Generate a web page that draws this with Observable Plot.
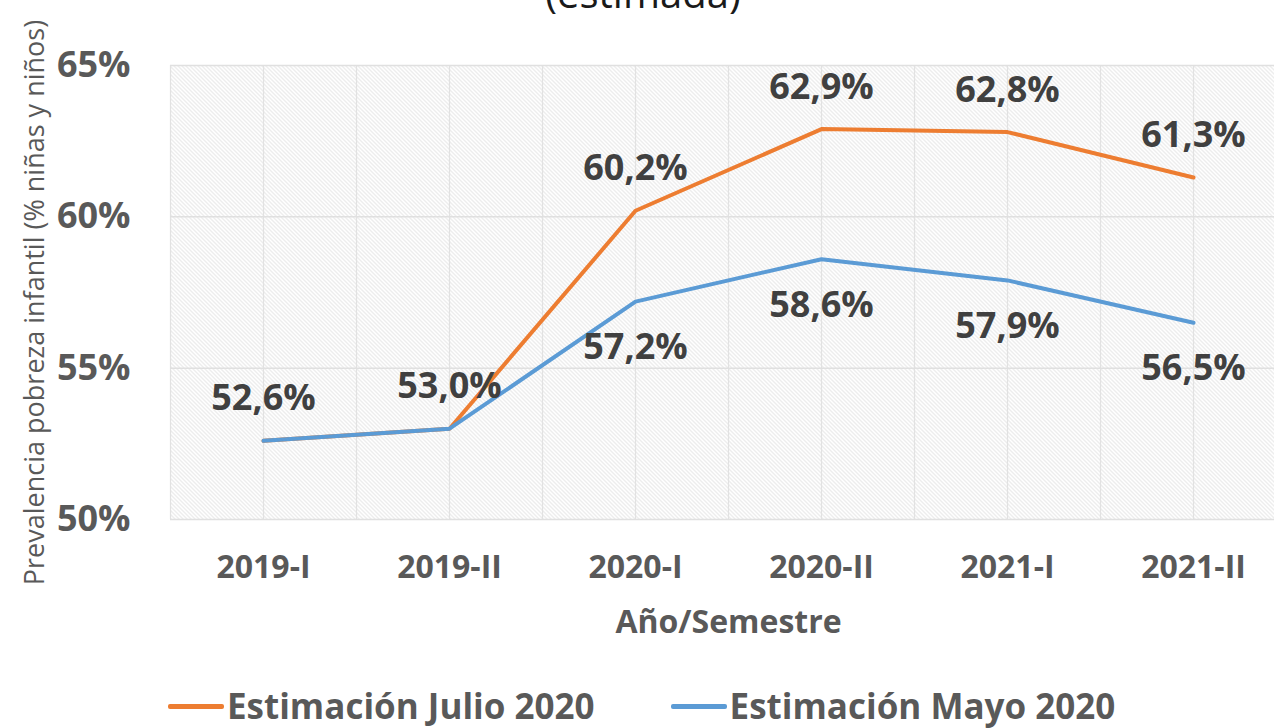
<!DOCTYPE html>
<html>
<head>
<meta charset="utf-8">
<script src="https://cdn.jsdelivr.net/npm/d3@7"></script>
<script src="https://cdn.jsdelivr.net/npm/@observablehq/plot@0.6"></script>
<style>
  html, body { margin: 0; padding: 0; background: #fff; overflow: hidden; width: 1274px; height: 728px; }
  #wrap { position: relative; width: 1274px; height: 728px; overflow: hidden; font-family: "Open Sans", sans-serif; }
  #title { position: absolute; left: 0; width: 1286px; top: -27px; text-align: center; font-size: 40px; line-height: 40px; color: #1a1a1a; }
  #chart { position: absolute; left: 0; top: 0; width: 1286px; }
  #legend { position: absolute; left: 168px; top: 686px; height: 40px; display: flex; justify-content: flex-start; align-items: center; font-weight: bold; font-size: 35px; color: #595959; line-height: 40px; white-space: nowrap; }
  .item { display: flex; align-items: center; }
  .sw { display: inline-block; width: 56px; height: 5px; border-radius: 2px; margin-right: 3px; }
</style>
</head>
<body>
<div id="wrap">
  <div id="title">(estimada)</div>
  <div id="chart"></div>
  <div id="legend"></div>
</div>
<script>
const categories = ["2019-I", "2019-II", "2020-I", "2020-II", "2021-I", "2021-II"];
const julio = [52.6, 53.0, 60.2, 62.9, 62.8, 61.3];
const mayo  = [52.6, 53.0, 57.2, 58.6, 57.9, 56.5];
const yTicks = [50, 55, 60, 65];
const seriesNames = ["Estimación Julio 2020", "Estimación Mayo 2020"];
const seriesColors = ["#ED7D31", "#5B9BD5"];

const fmt = v => v.toFixed(1).replace(".", ",") + "%";
const idx = categories.map((_, i) => i);
const julioData = idx.map(i => ({i, v: julio[i]}));
const mayoData = idx.map(i => ({i, v: mayo[i]}));
const mayoLabels = mayoData.filter(d => d.v !== julio[d.i]);
const vGrid = d3.range(-0.5, categories.length, 0.5);

const svg = Plot.plot({
  width: 1286,
  height: 650,
  marginLeft: 170,
  marginRight: 0,
  marginTop: 65,
  marginBottom: 131,
  style: { fontFamily: "Open Sans, sans-serif", color: "#595959", background: "transparent", maxWidth: "none", overflow: "visible" },
  x: { type: "linear", domain: [-0.5, categories.length - 0.5] },
  y: { domain: [50, 65] },
  marks: [
    Plot.frame({ fill: "url(#hatch)", stroke: null }),
    Plot.ruleX(vGrid, { stroke: "#e2e2e2", strokeWidth: 1.2 }),
    Plot.ruleY(yTicks, { stroke: "#e0e0e0", strokeWidth: 1.5 }),
    Plot.axisY({ ticks: yTicks, tickSize: 0, tickPadding: 40, tickFormat: d => d + "%", fontSize: 36, fontWeight: "bold", label: null }),
    Plot.axisX({ ticks: idx, tickSize: 0, tickPadding: 36, tickFormat: i => categories[i], fontSize: 32, fontWeight: "bold", label: null }),
    Plot.text(["Año/Semestre"], { frameAnchor: "bottom", lineAnchor: "middle", dy: 103, fontSize: 32, fontWeight: "bold", fill: "#595959" }),
    Plot.text(["Prevalencia pobreza infantil (% niñas y niños)"], { frameAnchor: "left", textAnchor: "middle", lineAnchor: "middle", dx: -135, dy: 10, rotate: -90, fontSize: 27, fill: "#595959" }),
    Plot.line(julioData, { x: "i", y: "v", stroke: seriesColors[0], strokeWidth: 4, strokeLinejoin: "round" }),
    Plot.line(mayoData, { x: "i", y: "v", stroke: seriesColors[1], strokeWidth: 4, strokeLinejoin: "round" }),
    Plot.text(julioData, { x: "i", y: "v", text: d => fmt(d.v), dy: -42, fontSize: 36, fontWeight: "bold", fill: "#404040" }),
    Plot.text(mayoLabels, { x: "i", y: "v", text: d => fmt(d.v), dy: 46, fontSize: 36, fontWeight: "bold", fill: "#404040" })
  ]
});

svg.insertAdjacentHTML("afterbegin",
  '<defs><pattern id="hatch" width="4" height="4" patternUnits="userSpaceOnUse">' +
  '<rect width="4" height="4" fill="#ffffff"/>' +
  '<path d="M-1,-1 L5,5 M3,-1 L5,1 M-1,3 L1,5" stroke="#d6d6d6" stroke-width="0.9"/>' +
  '</pattern></defs>');
document.getElementById("chart").appendChild(svg);

const legend = document.getElementById("legend");
seriesNames.forEach((name, k) => {
  const item = document.createElement("div");
  item.className = "item";
  item.style.marginRight = k === 0 ? "76px" : "0";
  const sw = document.createElement("span");
  sw.className = "sw";
  sw.style.background = seriesColors[k];
  const t = document.createElement("span");
  t.textContent = name;
  item.appendChild(sw);
  item.appendChild(t);
  legend.appendChild(item);
});
</script>
</body>
</html>
